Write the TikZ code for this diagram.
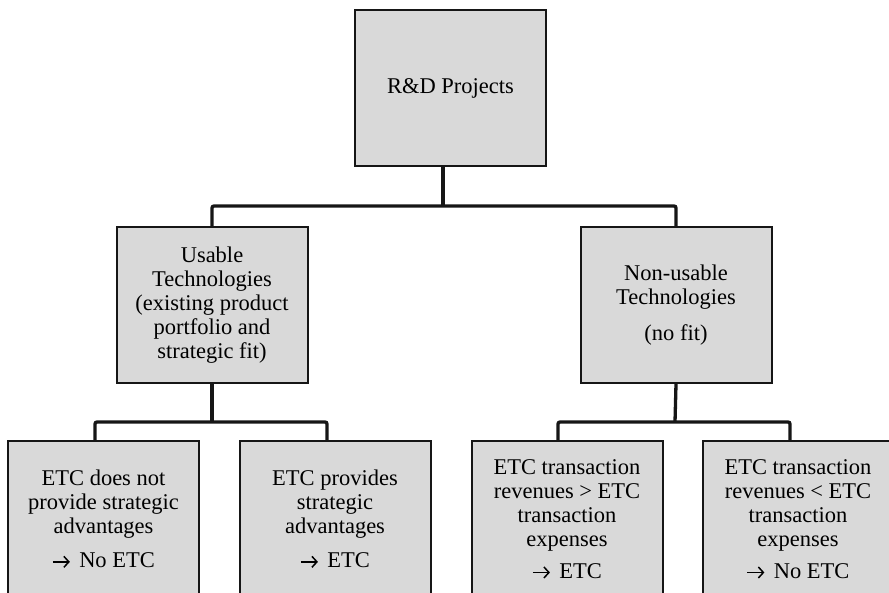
\documentclass[tikz,border=0pt]{standalone}
\usepackage{fontspec}
\setmainfont{Liberation Serif}
\usepackage{tikz}
\usetikzlibrary{positioning, arrows.meta}
\definecolor{boxgray}{HTML}{D9D9D9}
\definecolor{linedark}{HTML}{161616}
\newcommand{\thento}{\tikz[baseline=-0.55ex]\draw[line width=1.5pt,-{Straight Barb[length=5pt,width=11pt]}] (0,0) -- (17pt,0);\hspace{3pt}}

\tikzset{
  box/.style={draw=linedark, line width=2pt, fill=boxgray,
    minimum width=191pt, minimum height=156pt, inner sep=0pt,
    align=center, font=\fontsize{22.5}{24}\selectfont},
  link/.style={draw=linedark, line width=3.3pt, rounded corners=2pt}
}

\begin{document}
\begin{tikzpicture}[x=1pt,y=-1pt]
\useasboundingbox (0,0) rectangle (889,593);
\clip (0,0) rectangle (889,593);
% boxes
\node[box] (rd) at (450.5,88) {R\&D Projects};
\node[box] (usable) at (212,305) {Usable\\Technologies\\(existing product\\portfolio and\\strategic fit)};
\node[box] (nonusable) at (676,305) {Non-usable\\Technologies\\[12pt](no fit)};
\node[box] (noetc) at (103.5,519) {ETC does not\\provide strategic\\advantages\\[10pt]\thento{} No ETC};
\node[box] (etc) at (335,519) {ETC provides\\strategic\\advantages\\[10pt]\thento{} ETC};
\node[box] (revhigh) at (567,519) {ETC transaction\\revenues > ETC\\transaction\\expenses\\[8pt]\thento{} ETC};
\node[box] (revlow) at (798,519) {ETC transaction\\revenues < ETC\\transaction\\expenses\\[8pt]\thento{} No ETC};
% junctions
\coordinate (j0) at (443,206);
\coordinate (j1) at (212,422);
\coordinate (j2) at (675,422);
\coordinate (d1) at (95,441);
\coordinate (d2) at (327,441);
\coordinate (d3) at (558,441);
\coordinate (d4) at (790,441);
% connectors
\draw[link] (j0 |- rd.south) -- (j0);
\draw[link] (usable.north) |- (j0) -| (nonusable.north);
\draw[link] (usable.south) -- (j1);
\draw[link] (d1) |- (j1) -| (d2);
\draw[link] (nonusable.south) -- (j2);
\draw[link] (d3) |- (j2) -| (d4);
\end{tikzpicture}
\end{document}
